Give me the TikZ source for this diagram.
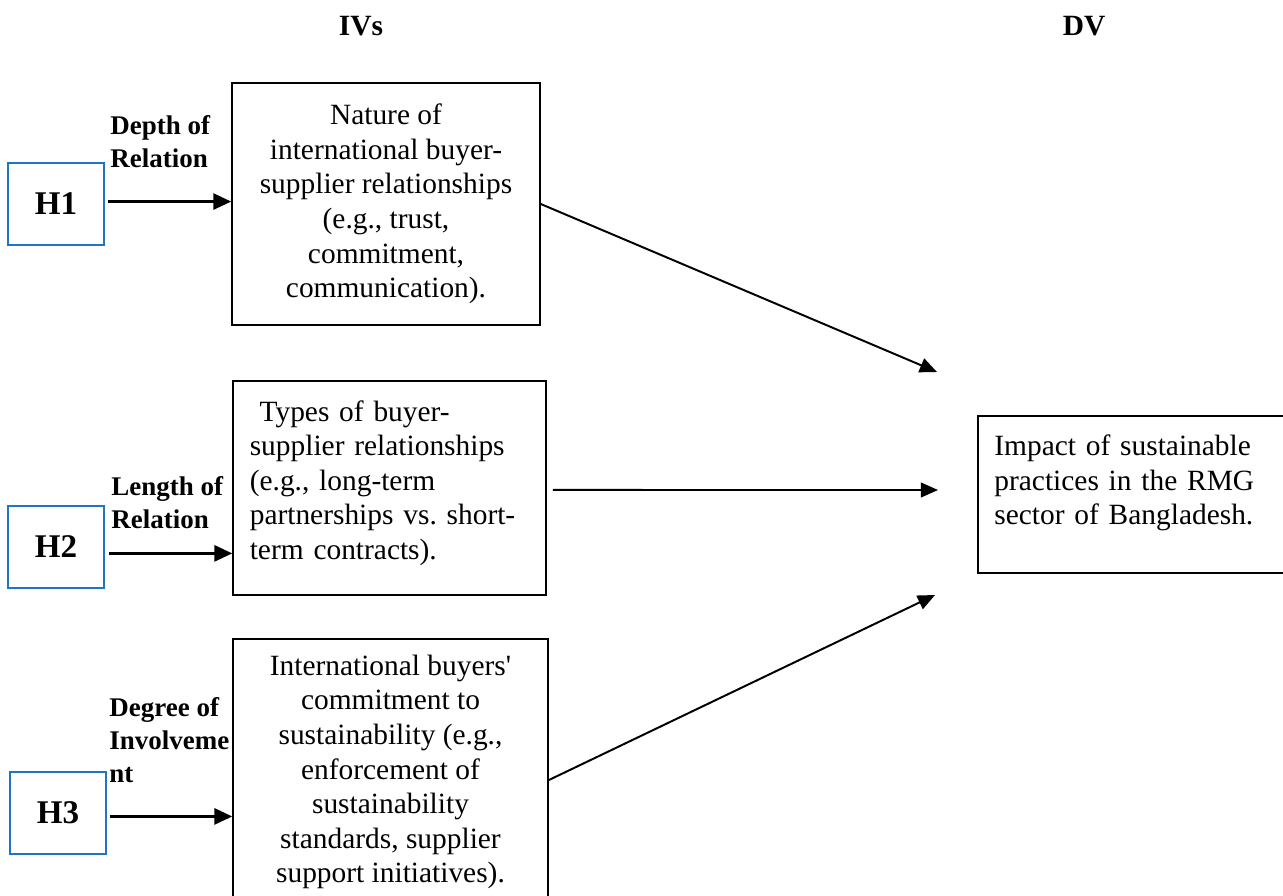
\documentclass[tikz,border=0pt]{standalone}
\usepackage{fontspec}
\setmainfont{Liberation Serif}
\usepackage{tikz}
\usetikzlibrary{arrows.meta, positioning, calc}
\usepackage{xcolor}
\definecolor{hblue}{HTML}{1F74C4}

\begin{document}
\begin{tikzpicture}[
    x=0.408pt, y=-0.408pt,
    hbox/.style={draw=hblue, line width=0.85pt, minimum width=38.8pt, minimum height=33.5pt,
        inner sep=0, font=\fontsize{13.5}{16}\selectfont\bfseries},
    ivbox/.style={draw, line width=0.6pt, inner sep=0, align=center,
        font=\fontsize{12}{14.1}\selectfont},
    lbl/.style={inner sep=0, anchor=west, align=left, font=\fontsize{11}{13.5}\selectfont\bfseries},
    hdr/.style={font=\fontsize{12}{14}\selectfont\bfseries},
    harr/.style={line width=1.2pt, -{Triangle[length=7.3pt, width=6.5pt]}},
    darr/.style={line width=0.8pt, -{Triangle[length=7pt, width=6pt]}}]
\clip (0,0) rectangle (1283,895);
\node[hdr] (ivs) at (361,26)  {IVs};
\node[hdr] (dvs) at (1084,26) {DV};
% hypotheses
\node[hbox] (h1) at (56,204) {H1};
\node[hbox] (h2) at (56,547) {H2};
\node[hbox] (h3) at (58,813) {H3};
\node[lbl] (l1) at (110,142) {Depth of\\Relation};
\node[lbl] (l2) at (111,503) {Length of\\Relation};
\node[lbl] (l3) at (109,740) {Degree of\\Involveme\\nt};
% independent variables
\node[ivbox, minimum width=125.7pt, minimum height=98.7pt] (iv1) at (386,204)
    {Nature of\\international buyer-\\supplier relationships\\(e.g., trust,\\commitment,\\communication).};
\node[ivbox, minimum width=127.7pt, minimum height=87.3pt, text width=114pt, align=left,
    inner xsep=6.8pt, text depth=63pt] (iv2) at (389.5,488)
    {\ Types of buyer-\\supplier relationships\\(e.g., long-term\\partnerships vs.\ short-\\term contracts).};
\node[ivbox, minimum width=128.5pt, minimum height=108.5pt] (iv3) at (390.5,772)
    {International buyers\textquotesingle\\commitment to\\sustainability (e.g.,\\enforcement of\\sustainability\\standards, supplier\\support initiatives).};
% dependent variable
\node[ivbox, minimum width=131.4pt, minimum height=64.1pt, text width=118pt, align=left,
    inner xsep=6.7pt, text depth=40pt] (dv) at (1139,494.5)
    {Impact of sustainable\\practices in the RMG\\sector of Bangladesh.};
\coordinate (t1) at (937,372);
\coordinate (t2) at (938,490);
\coordinate (t3) at (935,595);
\draw[harr] ([xshift=1.2pt, yshift=1pt]h1.east) coordinate (a1) -- (a1 -| iv1.west);
\draw[harr] ([xshift=2pt, yshift=-2.6pt]h2.east) coordinate (a2) -- (a2 -| iv2.west);
\draw[harr] ([xshift=1.2pt, yshift=-1.4pt]h3.east) coordinate (a3) -- (a3 -| iv3.west);
\draw[darr] (iv1.east) -- (t1);
\draw[darr] ([xshift=2.5pt, yshift=-0.8pt]iv2.east) -- (t2);
\draw[darr] ([yshift=-3.3pt]iv3.east) -- (t3);
\end{tikzpicture}
\end{document}
